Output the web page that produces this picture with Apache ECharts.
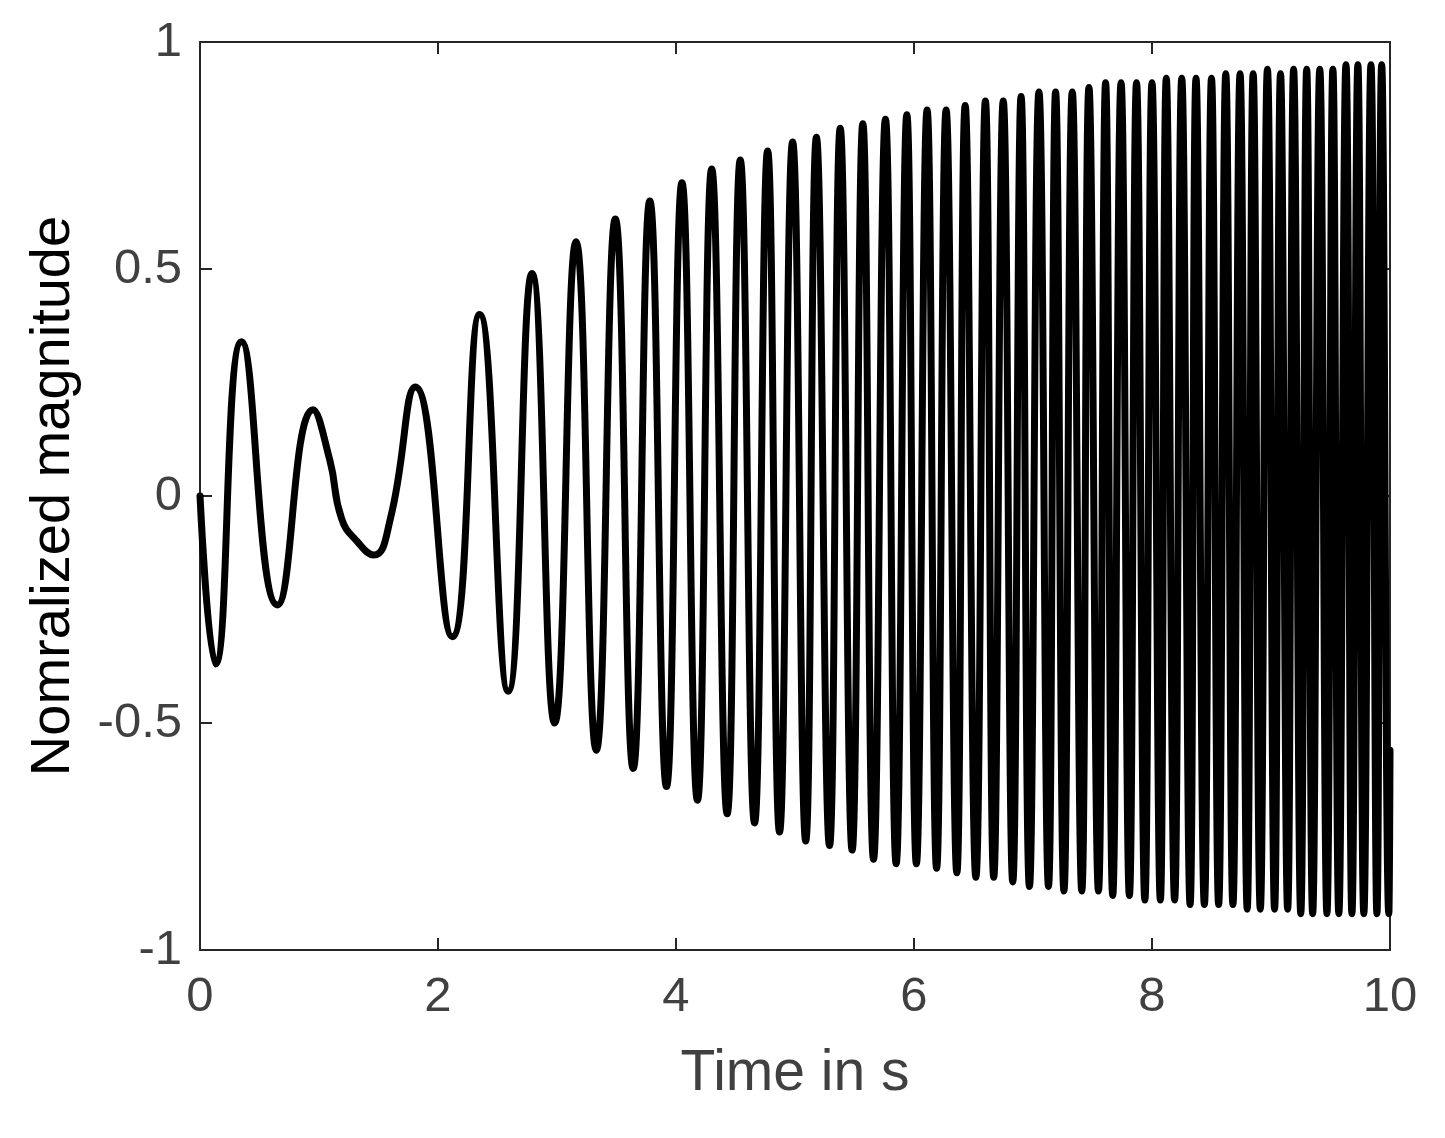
<!DOCTYPE html>
<html>
<head>
<meta charset="utf-8">
<script src="https://cdn.jsdelivr.net/npm/echarts@6/dist/echarts.min.js"></script>
<style>html,body{margin:0;padding:0;background:#fff;}#c{width:1445px;height:1138px;}</style>
</head>
<body>
<div id="c"></div>
<script>
// Early part of the signal (times in s, normalized magnitude)
const earlyT = [0, 0.13, 0.35, 0.65, 0.95, 1.09, 1.19, 1.32, 1.46, 1.60, 1.81, 2.12];
const earlyV = [0, -0.37, 0.34, -0.24, 0.19, 0.08, -0.05, -0.10, -0.13, -0.05, 0.24, -0.31];

// Peaks
const peakT = [2.35, 2.79, 3.16, 3.49, 3.78, 4.05, 4.30, 4.54, 4.77, 4.98, 5.18, 5.38, 5.57, 5.76, 5.94, 6.11, 6.27, 6.43, 6.60, 6.75, 6.90, 7.05, 7.19, 7.33, 7.47, 7.61, 7.74, 7.87, 8.00, 8.12, 8.25, 8.37, 8.50, 8.62, 8.74, 8.85, 8.97, 9.08, 9.19, 9.30, 9.41, 9.52, 9.63, 9.73, 9.84, 9.93];
const peakV = [0.40, 0.49, 0.56, 0.61, 0.65, 0.69, 0.72, 0.74, 0.76, 0.78, 0.79, 0.81, 0.82, 0.83, 0.84, 0.85, 0.85, 0.86, 0.87, 0.87, 0.88, 0.89, 0.89, 0.89, 0.90, 0.91, 0.91, 0.91, 0.91, 0.92, 0.92, 0.92, 0.92, 0.93, 0.93, 0.93, 0.94, 0.93, 0.94, 0.94, 0.94, 0.94, 0.95, 0.95, 0.95, 0.95];

// Troughs
const troughT = [2.59, 2.98, 3.33, 3.64, 3.92, 4.18, 4.43, 4.66, 4.87, 5.09, 5.29, 5.48, 5.66, 5.85, 6.02, 6.19, 6.36, 6.52, 6.67, 6.83, 6.97, 7.13, 7.26, 7.41, 7.55, 7.67, 7.81, 7.94, 8.07, 8.19, 8.32, 8.44, 8.56, 8.68, 8.80, 8.91, 9.03, 9.14, 9.25, 9.35, 9.47, 9.57, 9.68, 9.78, 9.89, 9.99];
const troughV = [-0.43, -0.50, -0.56, -0.60, -0.64, -0.67, -0.70, -0.72, -0.74, -0.76, -0.77, -0.78, -0.80, -0.81, -0.81, -0.82, -0.83, -0.84, -0.84, -0.85, -0.86, -0.86, -0.87, -0.87, -0.87, -0.88, -0.88, -0.89, -0.89, -0.89, -0.90, -0.90, -0.90, -0.90, -0.91, -0.91, -0.91, -0.91, -0.92, -0.92, -0.92, -0.92, -0.92, -0.92, -0.92, -0.92];

// Final sample
const endT = [10];
const endV = [-0.56];

const xTicks = [0, 2, 4, 6, 8, 10];
const yTicks = [-1, -0.5, 0, 0.5, 1];

const pts = [];
earlyT.forEach((t, i) => pts.push([t, earlyV[i]]));
peakT.forEach((t, i) => pts.push([t, peakV[i]]));
troughT.forEach((t, i) => pts.push([t, troughV[i]]));
endT.forEach((t, i) => pts.push([t, endV[i]]));
pts.sort((a, b) => a[0] - b[0]);

const FONT = '"Liberation Sans", Arial, Helvetica, sans-serif';
function axLine() { return { show: true, onZero: false, lineStyle: { color: '#262626', width: 2 } }; }
function axTick() { return { show: true, inside: true, length: 12, lineStyle: { color: '#262626', width: 2 } }; }

const chart = echarts.init(document.getElementById('c'), null, { renderer: 'canvas' });
chart.setOption({
  animation: false,
  backgroundColor: '#ffffff',
  grid: { left: 200, right: 55, top: 42, bottom: 188, containLabel: false },
  xAxis: [{
    type: 'value', min: 0, max: 10, interval: 2, position: 'bottom',
    name: 'Time in s', nameLocation: 'middle', nameGap: 96,
    nameTextStyle: { fontFamily: FONT, fontSize: 57, color: '#404040' },
    axisLine: axLine(), axisTick: axTick(), splitLine: { show: false },
    axisLabel: { fontFamily: FONT, fontSize: 49, color: '#404040', margin: 23,
      formatter: v => xTicks.includes(v) ? String(v) : '' }
  }, {
    type: 'value', min: 0, max: 10, interval: 2, position: 'top',
    axisLine: axLine(), axisTick: axTick(), splitLine: { show: false },
    axisLabel: { show: false }
  }],
  yAxis: [{
    type: 'value', min: -1, max: 1, interval: 0.5, position: 'left',
    name: 'Nomralized magnitude', nameLocation: 'middle', nameGap: 118, nameRotate: 90,
    nameTextStyle: { fontFamily: FONT, fontSize: 56, color: '#000000' },
    axisLine: axLine(), axisTick: axTick(), splitLine: { show: false },
    axisLabel: { fontFamily: FONT, fontSize: 49, color: '#404040', margin: 18,
      formatter: v => yTicks.includes(v) ? String(v) : '' }
  }, {
    type: 'value', min: -1, max: 1, interval: 0.5, position: 'right',
    axisLine: axLine(), axisTick: axTick(), splitLine: { show: false },
    axisLabel: { show: false }
  }],
  series: [{
    type: 'line',
    data: pts,
    smooth: 0.5,
    showSymbol: false,
    symbol: 'none',
    lineStyle: { color: '#000000', width: 7, join: 'round', cap: 'round' },
    z: 1
  }]
});
</script>
</body>
</html>
